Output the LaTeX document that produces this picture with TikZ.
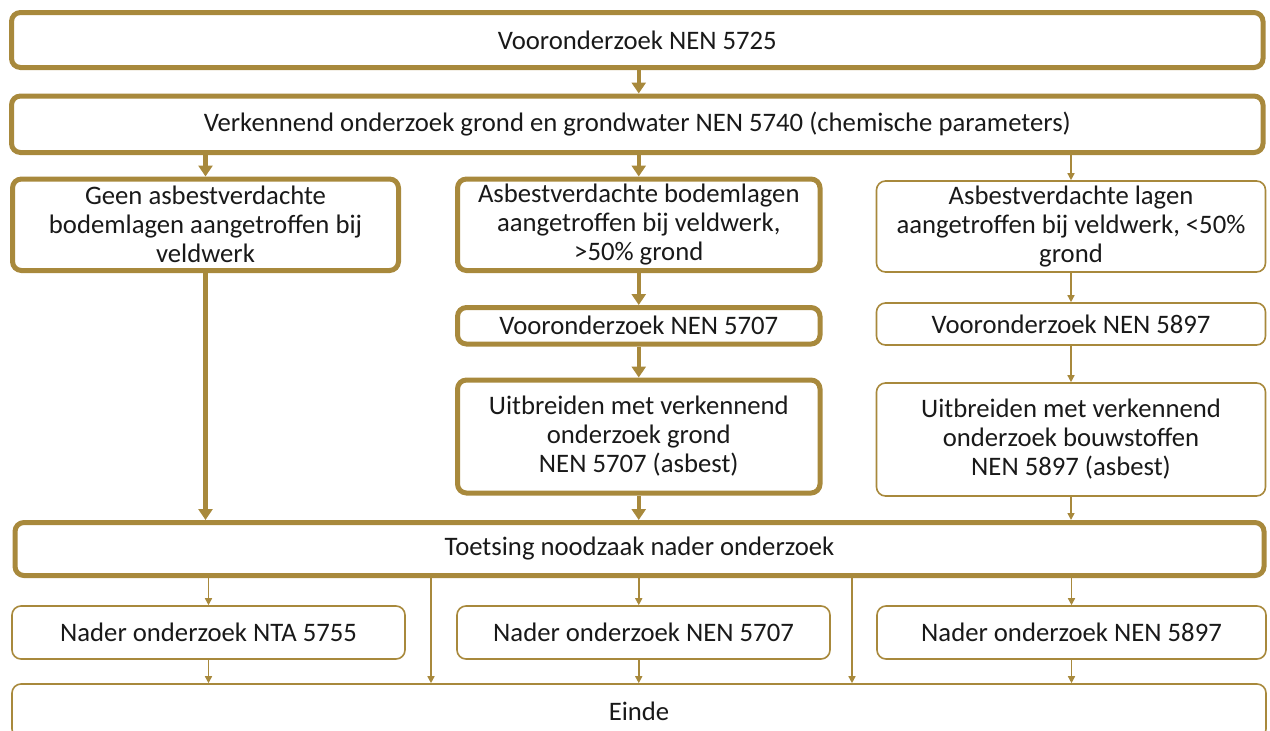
\documentclass[tikz,border=0pt]{standalone}
\usepackage{fontspec}
\setmainfont{Carlito}
\usepackage{tikz}
\usetikzlibrary{arrows.meta,positioning,calc}
\definecolor{goud}{RGB}{168,137,60}

\begin{document}
\begin{tikzpicture}[x=1pt,y=-1pt,
  stap/.style={draw=goud,line width=5pt,rounded corners=9pt,align=center,
    inner sep=0pt,font=\fontsize{26.7}{29}\selectfont,text=black!90},
  lichtstap/.style={stap,line width=1.6pt},
  pijl/.style={draw=goud,line width=4.5pt,-{Triangle[width=14pt,length=11pt]}},
  dunpijl/.style={draw=goud,line width=1.5pt,-{Triangle[width=7pt,length=7pt]}}]
\useasboundingbox (0,0) rectangle (1270,731);
 \node[stap,minimum width=1251.5,minimum height=55] (vo5725) at (637.25,40) {Vooronderzoek NEN 5725};
 \node[stap,minimum width=1251.5,minimum height=56.5] (vk5740) at (637.25,124.25) {Verkennend onderzoek grond en grondwater NEN 5740 (chemische parameters)};
 % drie takken
 \node[stap,minimum width=386,minimum height=91.5] (geen) at (205.5,224.75) {Geen asbestverdachte\\bodemlagen aangetroffen bij\\veldwerk};
 \node[stap,minimum width=362.5,minimum height=91.5] (asbgrond) at (638.75,224.75) {Asbestverdachte bodemlagen\\aangetroffen bij veldwerk,\\>50\% grond};
 \node[lichtstap,minimum width=389,minimum height=91] (asblagen) at (1071,226.5) {Asbestverdachte lagen\\aangetroffen bij veldwerk, <50\%\\grond};
 \node[stap,minimum width=362.5,minimum height=36.5] (vo5707) at (638.75,325.75) {Vooronderzoek NEN 5707};
 \node[lichtstap,minimum width=389,minimum height=42] (vo5897) at (1071,324) {Vooronderzoek NEN 5897};
 \node[stap,minimum width=362.5,minimum height=113] (uitgrond) at (638.75,436.5) {Uitbreiden met verkennend\\onderzoek grond\\NEN 5707 (asbest)};
 \node[lichtstap,minimum width=389,minimum height=113] (uitbouw) at (1071,439.5) {Uitbreiden met verkennend\\onderzoek bouwstoffen\\NEN 5897 (asbest)};
 \node[stap,minimum width=1249,minimum height=53] (toets) at (639.5,549) {Toetsing noodzaak nader onderzoek};
 % nader onderzoek
 \node[lichtstap,minimum width=393,minimum height=53] (nta) at (208.5,632.5) {Nader onderzoek NTA 5755};
 \node[lichtstap,minimum width=373,minimum height=53] (nd5707) at (643.5,632.5) {Nader onderzoek NEN 5707};
 \node[lichtstap,minimum width=389,minimum height=53] (nd5897) at (1071.5,632.5) {Nader onderzoek NEN 5897};
 \node[lichtstap,minimum width=1254,minimum height=54] (einde) at (639,711) {Einde};
 \coordinate (links) at (431,0);
 \coordinate (rechts) at (852,0);

 \draw[pijl] (vo5725.south -| asbgrond.north) -- (vk5740.north -| asbgrond.north);
 \draw[pijl] (vk5740.south -| geen.north) -- (geen.north);
 \draw[pijl] (vk5740.south -| asbgrond.north) -- (asbgrond.north);
 \draw[dunpijl] (vk5740.south -| asblagen.north) -- (asblagen.north);
 \draw[pijl] (asbgrond) -- (vo5707);
 \draw[pijl] (vo5707) -- (uitgrond);
 \draw[dunpijl] (asblagen) -- (vo5897);
 \draw[dunpijl] (vo5897) -- (uitbouw);
 \draw[pijl] (geen.south) -- (toets.north -| geen.south);
 \draw[pijl] (uitgrond.south) -- (toets.north -| uitgrond.south);
 \draw[dunpijl] (uitbouw.south) -- (toets.north -| uitbouw.south);
 \draw[dunpijl] (toets.south -| nta.north) -- (nta.north);
 \draw[dunpijl] (toets.south -| uitgrond.south) -- (nd5707.north -| uitgrond.south);
 \draw[dunpijl] (toets.south -| nd5897.north) -- (nd5897.north);
 \draw[dunpijl] (toets.south -| links) -- (einde.north -| links);
 \draw[dunpijl] (toets.south -| rechts) -- (einde.north -| rechts);
 \draw[dunpijl] (nta.south) -- (einde.north -| nta.south);
 \draw[dunpijl] (nd5707.south -| uitgrond.south) -- (einde.north -| uitgrond.south);
 \draw[dunpijl] (nd5897.south) -- (einde.north -| nd5897.south);
\end{tikzpicture}
\end{document}
